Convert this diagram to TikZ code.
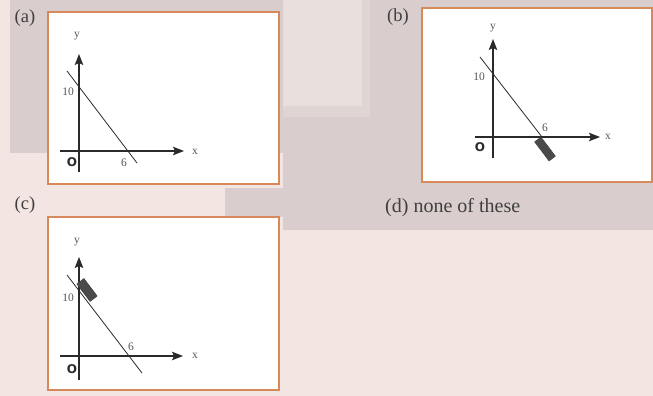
\documentclass[tikz,border=0pt]{standalone}
\usepackage{fontspec}
\setmainfont{Liberation Serif}
\newfontfamily\originfont{DejaVu Sans}
\usetikzlibrary{arrows.meta}
\definecolor{ink}{HTML}{2a2a2a}
\definecolor{frame}{HTML}{d8895a}
\definecolor{paper}{HTML}{f3e6e2}
\definecolor{greyband}{HTML}{d9cecd}
\definecolor{paleblock}{HTML}{e9dfdc}
\definecolor{barfill}{HTML}{4a4a4a}

\begin{document}
\begin{tikzpicture}[x=1pt,y=-1pt,
  panel/.style={draw=frame,fill=white,line width=1.5pt},
  axis/.style={ink,line width=1.2pt,-{Stealth[length=11pt,width=8.5pt,inset=2pt]}},
  plotline/.style={ink,line width=0.8pt},
  numlbl/.style={text=ink!80,inner sep=0pt,font=\fontsize{11.5}{11.5}\selectfont},
  tag/.style={text=ink!90,inner sep=0pt,font=\fontsize{18.5}{18.5}\selectfont},
  origin/.style={text=ink,inner sep=0pt,font=\originfont\bfseries\fontsize{12}{12}\selectfont},
  shadebar/.style={fill=barfill,draw=barfill!80!black,minimum width=24pt,minimum height=8pt,inner sep=0pt,rotate=-53}]
  \useasboundingbox (0,0) rectangle (653,396);
  % page background
  \fill[paper] (0,0) rectangle (653,396);
  \fill[greyband] (10,0) rectangle (283,153);
  \fill[greyband] (283,0) rectangle (653,230);
  \fill[greyband] (225,188) rectangle (283,217);
  \fill[greyband!60!paleblock] (283,0) rectangle (370,117);
  \fill[paleblock] (283,0) rectangle (362,106);

  % (a)
  \node[tag] (taga) at (25,18) {(a)};
  \draw[panel] (48,12) rectangle (279,184);
  \coordinate (ya0) at (79,172); \coordinate (ya1) at (79,54);
  \coordinate (xa0) at (60,151); \coordinate (xa1) at (184,151);
  \coordinate (la0) at (67,71);  \coordinate (la1) at (137,163);
  \draw[axis] (ya0) -- (ya1);
  \draw[axis] (xa0) -- (xa1);
  \draw[plotline] (la0) -- (la1);
  \node[numlbl] (ylaba) at (77,36) {y};
  \node[numlbl] (xlaba) at (195,152) {x};
  \node[numlbl] (tena) at (68,92) {10};
  \node[numlbl] (sixa) at (124,163) {6};
  \node[origin] (oa) at (72,162) {O};

  % (b)
  \node[tag] (tagb) at (398,17) {(b)};
  \draw[panel] (422,8) rectangle (652,182);
  \coordinate (yb0) at (493,158); \coordinate (yb1) at (493,39);
  \coordinate (xb0) at (475,137); \coordinate (xb1) at (600,137);
  \coordinate (lb0) at (480,57);  \coordinate (lb1) at (542,137);
  \draw[axis] (yb0) -- (yb1);
  \draw[axis] (xb0) -- (xb1);
  \draw[plotline] (lb0) -- (lb1);
  \node[shadebar] (barb) at (545,149) {};
  \node[numlbl] (ylabb) at (493,28) {y};
  \node[numlbl] (xlabb) at (608,137) {x};
  \node[numlbl] (tenb) at (479,77) {10};
  \node[numlbl] (sixb) at (545,128) {6};
  \node[origin] (ob) at (480,147) {O};

  % (c)
  \node[tag] (tagc) at (25,205) {(c)};
  \draw[panel] (48,217) rectangle (279,390);
  \coordinate (yc0) at (79,380); \coordinate (yc1) at (79,257);
  \coordinate (xc0) at (60,356); \coordinate (xc1) at (183,356);
  \coordinate (lc0) at (67,275); \coordinate (lc1) at (142,373);
  \draw[axis] (yc0) -- (yc1);
  \draw[axis] (xc0) -- (xc1);
  \draw[plotline] (lc0) -- (lc1);
  \node[shadebar,minimum width=22pt,minimum height=9pt] (barc) at (87,290) {};
  \node[numlbl] (ylabc) at (77,242) {y};
  \node[numlbl] (xlabc) at (195,356) {x};
  \node[numlbl] (tenc) at (68,298) {10};
  \node[numlbl] (sixc) at (131,347) {6};
  \node[origin] (oc) at (72,369) {O};

  % (d)
  \node[tag,anchor=west,font=\fontsize{20}{20}\selectfont] (tagd) at (385,208) {(d) none of these};
\end{tikzpicture}
\end{document}
